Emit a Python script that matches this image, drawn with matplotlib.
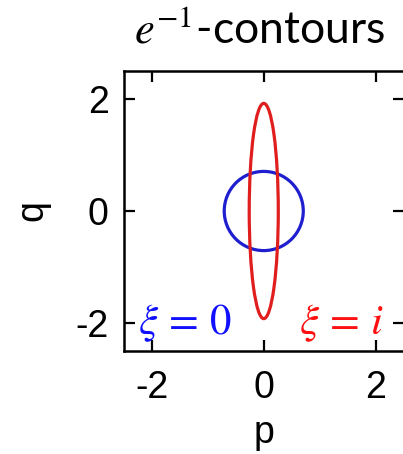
import matplotlib
matplotlib.use("Agg")
import matplotlib.pyplot as plt
from matplotlib.patches import Ellipse

plt.rcParams["axes.unicode_minus"] = False
plt.rcParams["mathtext.fontset"] = "stix"

# e^-1 contour semi-axes (p half-width, q half-height)
vacuum_axes = [0.707, 0.707]      # xi = 0
squeezed_axes = [0.260, 1.922]    # xi = i
tick_values = [-2, 0, 2]
tick_labels = ["-2", "0", "2"]
axis_limits = [-2.5, 2.5]

fig = plt.figure(figsize=(4.03, 4.54), dpi=100)
ax = fig.add_axes([124 / 403, 103 / 454, 279.5 / 403, 280 / 454])

ax.add_patch(Ellipse((0, 0), 2 * vacuum_axes[0], 2 * vacuum_axes[1],
                     fill=False, edgecolor="#1f1fcf", linewidth=2.3))
ax.add_patch(Ellipse((0, 0), 2 * squeezed_axes[0], 2 * squeezed_axes[1],
                     fill=False, edgecolor="#e01e1e", linewidth=2.3))

ax.set_xlim(axis_limits)
ax.set_ylim(axis_limits)
ax.set_xticks(tick_values)
ax.set_xticklabels(tick_labels)
ax.set_yticks(tick_values)
ax.set_yticklabels(tick_labels)

label_font = {"family": "Liberation Sans", "size": 27}
ax.tick_params(direction="in", top=True, right=True, length=8, width=1.6,
               labelsize=27)
ax.tick_params(axis="x", pad=14)
ax.tick_params(axis="y", pad=11)
for lab in ax.get_xticklabels() + ax.get_yticklabels():
    lab.set_fontfamily("Liberation Sans")
for s in ax.spines.values():
    s.set_linewidth(1.8)

ax.set_xlabel("p", fontdict=label_font, labelpad=6)
ax.set_ylabel("q", fontdict=label_font, labelpad=18)

ax.text(-1.4, -2.0, r"$\xi\,=\,0$", color="#1010ff", fontsize=31,
        ha="center", va="center")
ax.text(1.39, -2.0, r"$\xi\,=\,i$", color="#ff1010", fontsize=31,
        ha="center", va="center")

fig.text(260 / 403, 1 - 30 / 454, r"$e^{-1}$-contours", fontsize=32,
         family="Lato", ha="center", va="center")

fig.savefig("out.png", dpi=100)
